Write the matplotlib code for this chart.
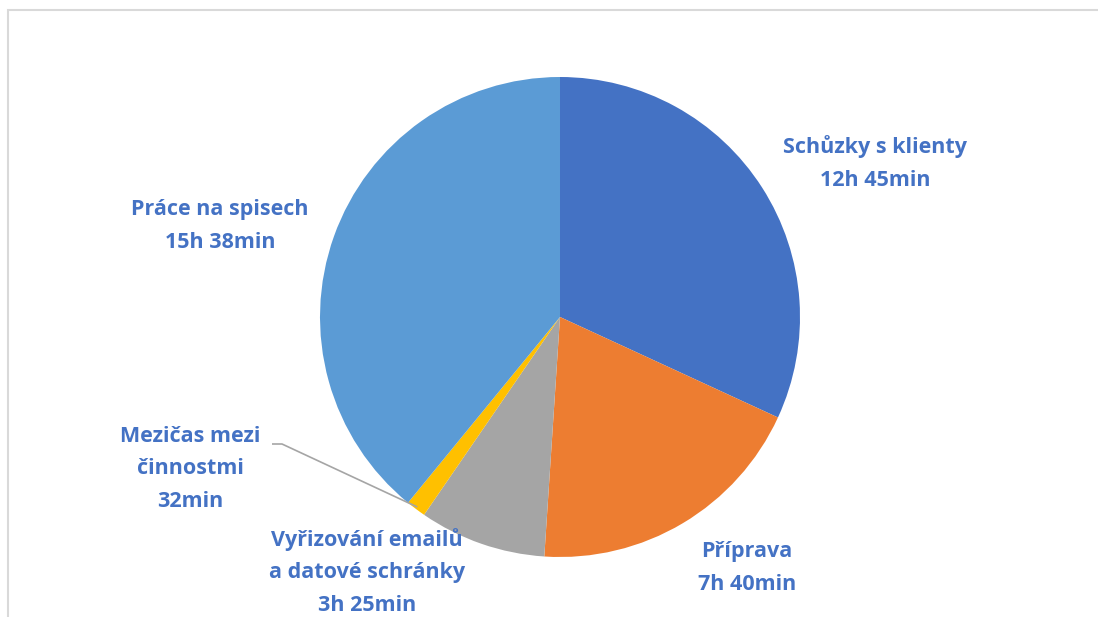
import math
import matplotlib
matplotlib.use("Agg")
import matplotlib.pyplot as plt
from matplotlib.patches import Rectangle

# data (minutes)
categories = ["Schůzky s klienty", "Příprava", "Vyřizování emailů\na datové schránky",
              "Mezičas mezi\nčinnostmi", "Práce na spisech"]
minutes = [765, 460, 205, 32, 938]
value_labels = ["12h 45min", "7h 40min", "3h 25min", "32min", "15h 38min"]
colors = ["#4472C4", "#ED7D31", "#A5A5A5", "#FFC000", "#5B9BD5"]

W, H = 1098, 617
fig = plt.figure(figsize=(W / 100, H / 100), dpi=100)
ax = fig.add_axes([0, 0, 1, 1])

cx, cy, r = 560, H - 317, 240
wedges, _ = ax.pie(minutes, colors=colors, startangle=90, counterclock=False,
                   center=(cx, cy), radius=r, frame=True,
                   wedgeprops=dict(linewidth=0))
ax.set_xlim(0, W)
ax.set_ylim(0, H)
ax.set_aspect("equal")
ax.axis("off")

# label positions (pixel centres of text block)
label_pos = [(875, 163), (747, 568), (367, 572), (190, 469), (220, 226)]
for cat, val, (lx, ly) in zip(categories, value_labels, label_pos):
    ax.text(lx, H - ly, cat + "\n" + val, ha="center", va="center",
            color="#4472C4", fontsize=15.5, fontweight="bold",
            family=["Open Sans", "DejaVu Sans"], linespacing=1.7)

# leader line for the small slice
w = wedges[3]
mid = math.radians((w.theta1 + w.theta2) / 2)
ex, ey = cx + 0.99 * r * math.cos(mid), cy + 0.99 * r * math.sin(mid)
ax.plot([272, 282, ex], [H - 444, H - 444, ey], color="#A5A5A5", lw=1.2,
        solid_capstyle="butt")

# chart border
fig.patches.append(Rectangle((8, -20), 1109, H - 10 + 20, transform=None,
                             fill=False, edgecolor="#D9D9D9", lw=1.5))

fig.savefig("out.png", dpi=100)
